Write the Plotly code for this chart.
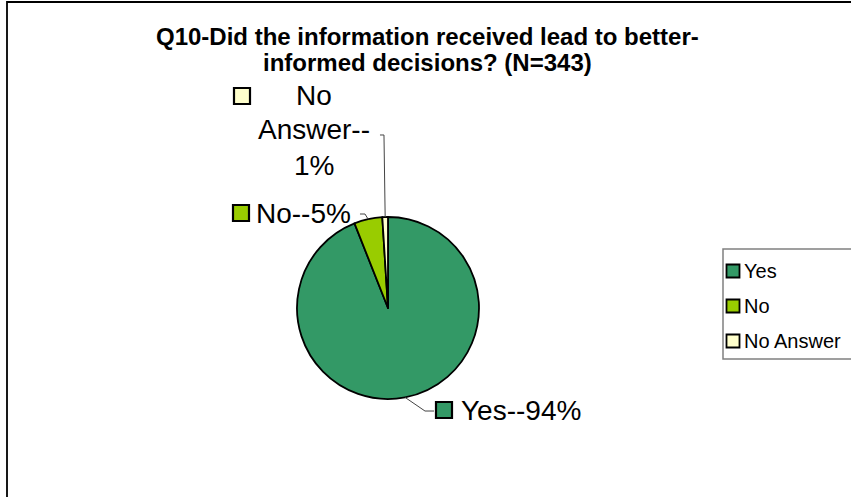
import math
import plotly.graph_objects as go

# Survey responses (percent of N=343)
categories = ["Yes", "No", "No Answer"]
percents = [94, 5, 1]
colors = ["#339966", "#99CC00", "#FFFFCC"]
title_lines = ["Q10-Did the information received lead to better-",
               "informed decisions? (N=343)"]

W, H = 851, 497
FONT = "Arial, Liberation Sans, sans-serif"

def px(x):
    return x / W

def py(y):
    return 1 - y / H

# pie geometry in pixels
cx, cy, R = 388, 308, 91

fig = go.Figure()
fig.add_trace(go.Pie(
    labels=categories,
    values=percents,
    sort=False,
    direction="clockwise",
    rotation=0,
    textinfo="none",
    hoverinfo="label+percent",
    showlegend=False,
    marker=dict(colors=colors, line=dict(color="black", width=1.8)),
    domain=dict(x=[px(cx - R), px(cx + R)], y=[py(cy + R), py(cy - R)]),
))

shapes = []
annotations = []

# outer chart frame
shapes.append(dict(type="rect", xref="paper", yref="paper",
                   x0=px(7), x1=px(W + 20), y0=py(H + 20), y1=py(2),
                   line=dict(color="black", width=1.8), fillcolor="rgba(0,0,0,0)"))

# title
for i, line in enumerate(title_lines):
    annotations.append(dict(text="<b>%s</b>" % line, x=px(427), y=py(36 + 26 * i),
                            xref="paper", yref="paper", showarrow=False,
                            xanchor="center", yanchor="middle",
                            font=dict(family=FONT, size=24, color="black")))

# mid-angle of each slice on the pie edge (clockwise from 12 o'clock)
total = sum(percents)
edge_pts = []
cum = 0
for v in percents:
    mid = (cum + v / 2) / total * 2 * math.pi
    edge_pts.append((cx + R * math.sin(mid), cy - R * math.cos(mid)))
    cum += v

label_texts = ["%s--%d%%" % (c, v) for c, v in zip(categories, percents)]

# label layout: square centre, text lines with anchor positions, leader elbow points
label_layout = [
    dict(sq=(444, 410), lines=[(label_texts[0], 459, 410, "left")],
         leader=[(425, 411), (434, 411)]),
    dict(sq=(241, 213), lines=[(label_texts[1], 254, 213, "left")],
         leader=[(365, 214), (360, 214)]),
    dict(sq=(242, 96),
         lines=[("No", 314, 96, "center"), ("Answer--", 314, 130, "center"),
                ("1%", 314, 165, "center")],
         leader=[(384, 135), (380, 135)]),
]

sq = 16
for (ex, ey), lay, col in zip(edge_pts, label_layout, colors):
    pts = [(ex, ey)] + lay["leader"]
    path = "M " + " L ".join("%.4f,%.4f" % (px(x), py(y)) for x, y in pts)
    shapes.append(dict(type="path", xref="paper", yref="paper", path=path,
                       line=dict(color="#444444", width=1)))
    sx, sy = lay["sq"]
    shapes.append(dict(type="rect", xref="paper", yref="paper",
                       x0=px(sx - sq / 2), x1=px(sx + sq / 2),
                       y0=py(sy + sq / 2), y1=py(sy - sq / 2),
                       line=dict(color="black", width=2.2), fillcolor=col))
    for text, tx, ty, anchor in lay["lines"]:
        annotations.append(dict(text=text, x=px(tx), y=py(ty), xref="paper", yref="paper",
                                showarrow=False, xanchor=anchor, yanchor="middle",
                                font=dict(family=FONT, size=28, color="black")))

# legend box
lx = 733
shapes.append(dict(type="rect", xref="paper", yref="paper",
                   x0=px(lx - 10), x1=px(W + 20), y0=py(359), y1=py(249),
                   line=dict(color="#808080", width=1.5), fillcolor="rgba(0,0,0,0)"))
lsq = 13
for i, (c, col) in enumerate(zip(categories, colors)):
    ly = 271 + 35 * i
    shapes.append(dict(type="rect", xref="paper", yref="paper",
                       x0=px(lx - lsq / 2), x1=px(lx + lsq / 2),
                       y0=py(ly + lsq / 2), y1=py(ly - lsq / 2),
                       line=dict(color="black", width=1.8), fillcolor=col))
    annotations.append(dict(text=c, x=px(lx + 9), y=py(ly), xref="paper", yref="paper",
                            showarrow=False, xanchor="left", yanchor="middle",
                            font=dict(family=FONT, size=20, color="black")))

fig.update_layout(
    width=W, height=H,
    margin=dict(l=0, r=0, t=0, b=0),
    paper_bgcolor="white", plot_bgcolor="white",
    shapes=shapes, annotations=annotations,
)

fig.write_html("out.html")
